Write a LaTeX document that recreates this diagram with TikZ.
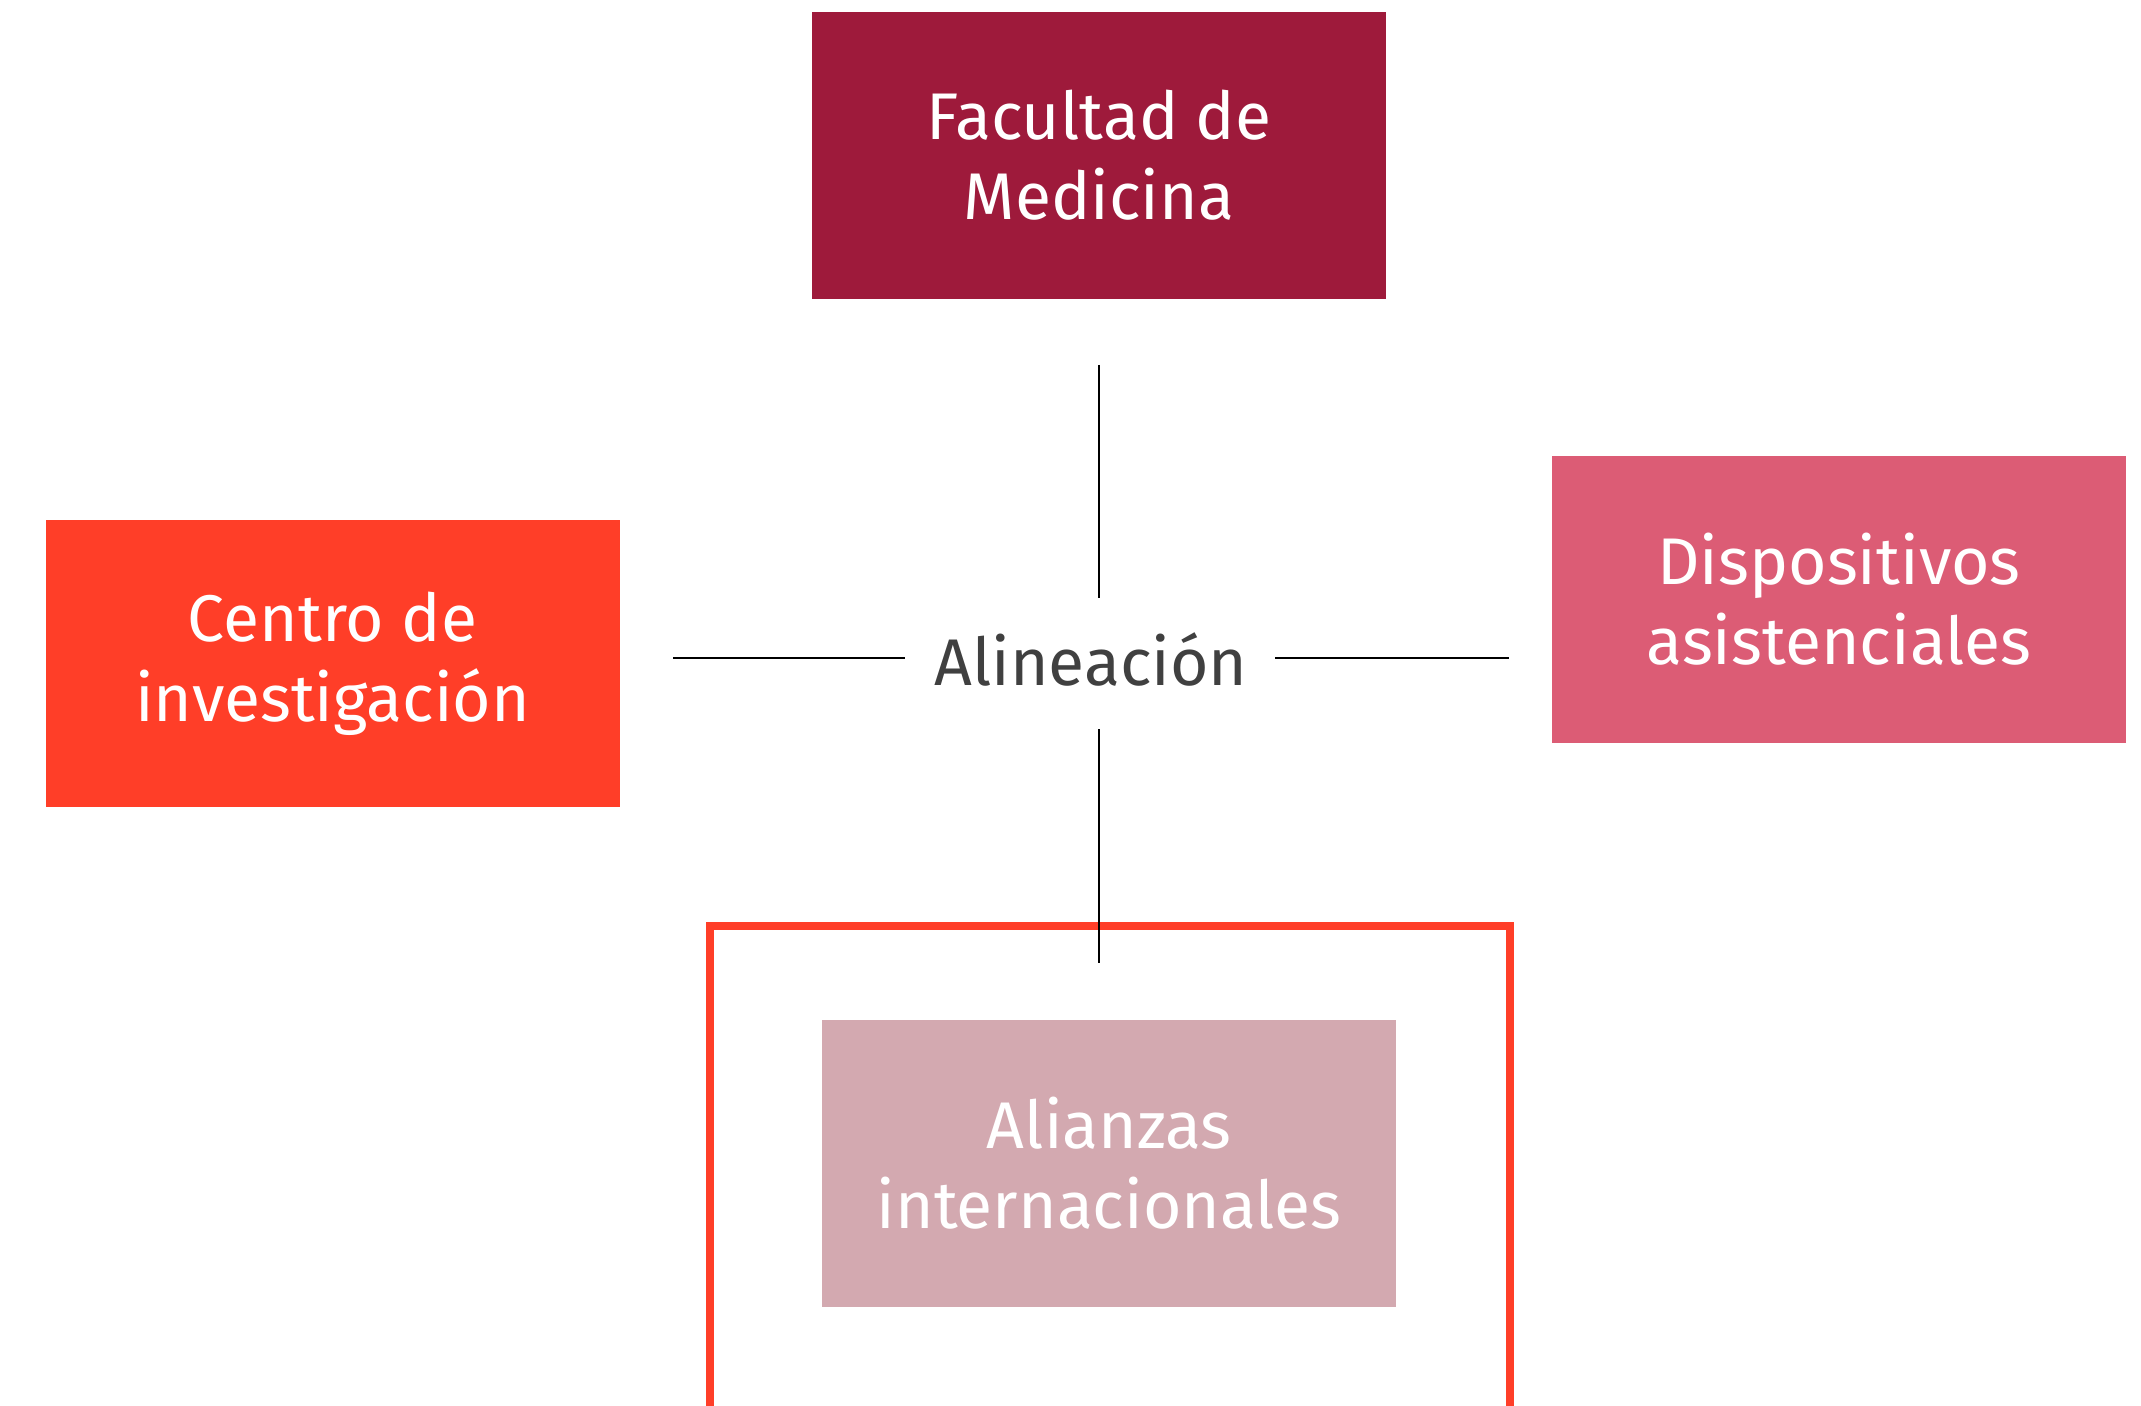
\documentclass[tikz,border=0pt]{standalone}
\usepackage{fontspec}
\setmainfont{Fira Sans}
\usetikzlibrary{positioning}
\definecolor{wine}{RGB}{158,26,59}
\definecolor{tomato}{RGB}{255,62,40}
\definecolor{rose}{RGB}{220,92,117}
\definecolor{dustrose}{RGB}{211,169,176}
\definecolor{darktext}{RGB}{64,64,64}
\tikzset{
  areabox/.style={minimum width=287pt,minimum height=143.5pt,inner sep=0pt,
    align=center,text=white,font=\fontsize{33}{40}\selectfont},
  link/.style={black,line width=0.7pt}
}
\begin{document}
\begin{tikzpicture}[x=0.5pt,y=-0.5pt]
  \useasboundingbox (0,0) rectangle (2141,1406);
  \node[areabox,fill=wine] (fac) at (1099,155.5) {Facultad de\\Medicina};
  \node[areabox,fill=tomato] (cen) at (332.5,663.5) {Centro de\\investigación};
  \node[areabox,fill=rose] (dis) at (1839,599.5) {Dispositivos\\asistenciales};
  \node[areabox,fill=dustrose] (ali) at (1109,1163.5) {Alianzas\\internacionales};
  \node[text=darktext,font=\fontsize{33}{40}\selectfont] (hub) at (1091,659) {Alineación};
  % marco de la alianza
  \draw[tomato,line width=3.8pt] (710,1450) -- (710,926) -- (1510,926) -- (1510,1450);
  % ejes
  \coordinate (up1) at (1099,365);   \coordinate (up2) at (1099,598);
  \coordinate (dn1) at (1099,729);   \coordinate (dn2) at (1099,963);
  \coordinate (lf1) at (673,658);    \coordinate (lf2) at (905,658);
  \coordinate (rt1) at (1275,658);   \coordinate (rt2) at (1509,658);
  \draw[link] (up1) -- (up2);
  \draw[link] (dn1) -- (dn2);
  \draw[link] (lf1) -- (lf2);
  \draw[link] (rt1) -- (rt2);
\end{tikzpicture}
\end{document}
